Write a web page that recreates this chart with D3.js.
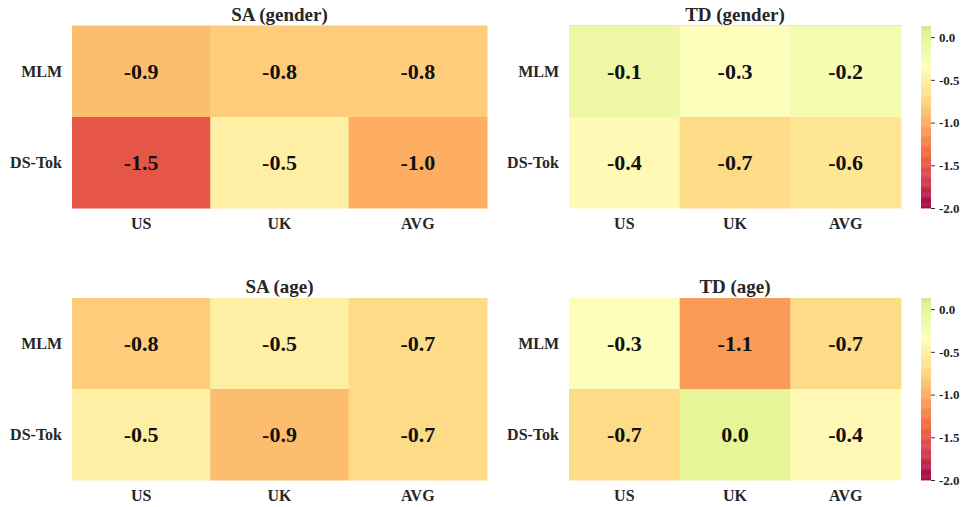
<!DOCTYPE html>
<html>
<head>
<meta charset="utf-8">
<script src="https://cdn.jsdelivr.net/npm/d3@7"></script>
<style>
  html, body { margin: 0; padding: 0; background: #fff; }
  svg { display: block; font-family: "Liberation Serif", "DejaVu Serif", serif; font-weight: bold; }
</style>
</head>
<body>
<svg id="chart" width="964" height="507"></svg>
<script>
// Row / column labels shared by every panel
const rowLabels = ["MLM", "DS-Tok"];
const colLabels = ["US", "UK", "AVG"];

// Cell values per panel (rows x columns)
const saGender = [[-0.9, -0.8, -0.8], [-1.5, -0.5, -1.0]];
const tdGender = [[-0.1, -0.3, -0.2], [-0.4, -0.7, -0.6]];
const saAge    = [[-0.8, -0.5, -0.7], [-0.5, -0.9, -0.7]];
const tdAge    = [[-0.3, -1.1, -0.7], [-0.7,  0.0, -0.4]];

const panelTitles = ["SA (gender)", "TD (gender)", "SA (age)", "TD (age)"];
const colorbarTicks = [0.0, -0.5, -1.0, -1.5, -2.0];

const vmin = -2.0, vmax = 0.13;

// Spectral anchor colours, interpolated linearly between stops
const spectralStops = ["#9e0142", "#d53e4f", "#f46d43", "#fdae61", "#fee08b", "#ffffbf",
                       "#e6f598", "#abdda4", "#66c2a5", "#3288bd", "#5e4fa2"];
const spectral = d3.scaleLinear()
  .domain(d3.range(spectralStops.length).map(i => i / (spectralStops.length - 1)))
  .range(spectralStops)
  .interpolate(d3.interpolateRgb);

// The value range uses the lower part of the ramp (centred colour map)
const color = v => spectral(0.3 * (v - vmin));
const fmt = v => v.toFixed(1);

const svg = d3.select("#chart");

const panels = [
  { title: panelTitles[0], data: saGender, x0: 72,  x1: 487, y0: 26,  y1: 208, bar: false, topLine: true },
  { title: panelTitles[1], data: tdGender, x0: 569, x1: 901, y0: 26,  y1: 208, bar: true,  topLine: true },
  { title: panelTitles[2], data: saAge,    x0: 72,  x1: 487, y0: 298, y1: 480, bar: false, topLine: false },
  { title: panelTitles[3], data: tdAge,    x0: 569, x1: 901, y0: 298, y1: 480, bar: true,  topLine: false }
];

panels.forEach(p => {
  const g = svg.append("g");
  const x = d3.scaleBand().domain(colLabels).range([p.x0, p.x1]);
  const y = d3.scaleBand().domain(rowLabels).range([p.y0, p.y1]);

  const cells = [];
  p.data.forEach((row, i) => row.forEach((v, j) => cells.push({ r: rowLabels[i], c: colLabels[j], v })));

  if (p.topLine) {
    g.append("line")
      .attr("x1", p.x0).attr("x2", p.x1)
      .attr("y1", p.y0 - 0.5).attr("y2", p.y0 - 0.5)
      .attr("stroke", "#e3e3ec").attr("stroke-width", 1);
  }

  g.selectAll("rect.cell").data(cells).join("rect")
    .attr("class", "cell")
    .attr("x", d => x(d.c))
    .attr("y", d => y(d.r))
    .attr("width", x.bandwidth() + 0.5)
    .attr("height", y.bandwidth() + 0.5)
    .attr("fill", d => color(d.v));

  g.selectAll("text.val").data(cells).join("text")
    .attr("class", "val")
    .attr("x", d => x(d.c) + x.bandwidth() / 2)
    .attr("y", d => y(d.r) + y.bandwidth() / 2)
    .attr("dy", "0.35em")
    .attr("text-anchor", "middle")
    .attr("font-size", 22)
    .attr("fill", "#111")
    .text(d => fmt(d.v));

  // Title
  g.append("text")
    .attr("x", (p.x0 + p.x1) / 2)
    .attr("y", p.y0 - 5)
    .attr("text-anchor", "middle")
    .attr("font-size", 19)
    .attr("fill", "#262626")
    .text(p.title);

  // Row labels
  g.selectAll("text.row").data(rowLabels).join("text")
    .attr("class", "row")
    .attr("x", p.x0 - 10)
    .attr("y", d => y(d) + y.bandwidth() / 2)
    .attr("dy", "0.35em")
    .attr("text-anchor", "end")
    .attr("font-size", 16)
    .attr("fill", "#262626")
    .text(d => d);

  // Column labels
  g.selectAll("text.col").data(colLabels).join("text")
    .attr("class", "col")
    .attr("x", d => x(d) + x.bandwidth() / 2)
    .attr("y", p.y1 + 21)
    .attr("text-anchor", "middle")
    .attr("font-size", 16)
    .attr("fill", "#262626")
    .text(d => d);

  // Colour bar
  if (p.bar) {
    const cb = svg.append("g");
    const cy = d3.scaleLinear().domain([vmin, vmax]).range([p.y1, p.y0]);
    const steps = d3.range(0, 200);
    const h = (p.y1 - p.y0) / steps.length;
    cb.selectAll("rect").data(steps).join("rect")
      .attr("x", 921)
      .attr("y", i => p.y1 - (i + 1) * h)
      .attr("width", 10)
      .attr("height", h + 0.4)
      .attr("fill", i => color(cy.invert(p.y1 - (i + 0.5) * h)));

    const axis = d3.axisRight(cy).tickValues(colorbarTicks)
      .tickSize(4).tickPadding(4).tickFormat(fmt);
    const ag = cb.append("g").attr("transform", "translate(931,0)").call(axis);
    ag.attr("font-family", null).attr("font-size", null);
    ag.select(".domain").remove();
    ag.selectAll(".tick line").attr("stroke", "#333");
    ag.selectAll(".tick text")
      .attr("font-size", 13)
      .attr("fill", "#262626");
  }
});
</script>
</body>
</html>
